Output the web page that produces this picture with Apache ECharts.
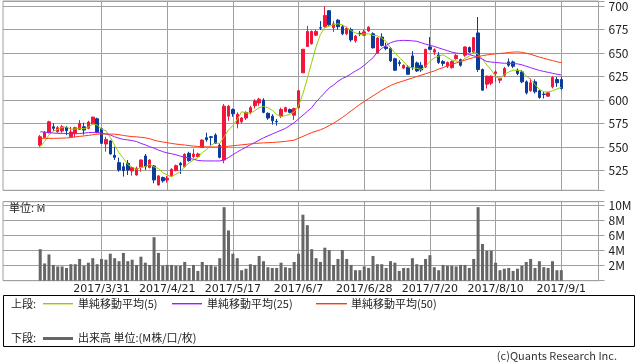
<!DOCTYPE html>
<html><head><meta charset="utf-8">
<script src="https://cdn.jsdelivr.net/npm/echarts@6/dist/echarts.min.js"></script>
<style>html,body{margin:0;padding:0;background:#fff}#c{width:638px;height:362px}</style>
</head><body><div id="c"></div>
<script>
const dates = [
'2017/3/10','2017/3/13','2017/3/14','2017/3/15','2017/3/16','2017/3/17','2017/3/21','2017/3/22','2017/3/23','2017/3/24',
'2017/3/27','2017/3/28','2017/3/29','2017/3/30','2017/3/31','2017/4/3','2017/4/4','2017/4/5','2017/4/6','2017/4/7',
'2017/4/10','2017/4/11','2017/4/12','2017/4/13','2017/4/14','2017/4/17','2017/4/18','2017/4/19','2017/4/20','2017/4/21',
'2017/4/24','2017/4/25','2017/4/26','2017/4/27','2017/4/28','2017/5/1','2017/5/2','2017/5/8','2017/5/9','2017/5/10',
'2017/5/11','2017/5/12','2017/5/15','2017/5/16','2017/5/17','2017/5/18','2017/5/19','2017/5/22','2017/5/23','2017/5/24',
'2017/5/25','2017/5/26','2017/5/29','2017/5/30','2017/5/31','2017/6/1','2017/6/2','2017/6/5','2017/6/6','2017/6/7',
'2017/6/8','2017/6/9','2017/6/12','2017/6/13','2017/6/14','2017/6/15','2017/6/16','2017/6/19','2017/6/20','2017/6/21',
'2017/6/22','2017/6/23','2017/6/26','2017/6/27','2017/6/28','2017/6/29','2017/6/30','2017/7/3','2017/7/4','2017/7/5',
'2017/7/6','2017/7/7','2017/7/10','2017/7/11','2017/7/12','2017/7/13','2017/7/14','2017/7/18','2017/7/19','2017/7/20',
'2017/7/21','2017/7/24','2017/7/25','2017/7/26','2017/7/27','2017/7/28','2017/7/31','2017/8/1','2017/8/2','2017/8/3',
'2017/8/4','2017/8/7','2017/8/8','2017/8/9','2017/8/10','2017/8/14','2017/8/15','2017/8/16','2017/8/17','2017/8/18',
'2017/8/21','2017/8/22','2017/8/23','2017/8/24','2017/8/25','2017/8/28','2017/8/29','2017/8/30','2017/8/31','2017/9/1'];

const tickLabels = ['2017/3/31','2017/4/21','2017/5/17','2017/6/7','2017/6/28','2017/7/20','2017/8/10','2017/9/1'];

const openP = [
552.3,560.4,565.4,571.7,566.4,567.2,571,561.1,564.7,568.9,
571.7,570,574.6,580.2,569.6,553.4,556.6,541.4,533.6,529.3,
532.9,524.8,520.5,528.6,540.7,528.3,530,509.9,517.7,515.2,
519.8,525.1,532.9,529.3,543.5,540,540,549.8,560.1,561.1,
562.9,552,536.4,583,590,575,577,581,587,594,
597,600,586,583,577.5,583,588,590,584,592,
629,657,660,669,677,678,695,677,685,678,
670.5,675,663,671,669,673.5,670.5,650,667,656.5,
654.8,644,640,634,635,647,639.5,637,635.3,656.5,
651,648,641,636,634.5,644,643,647.7,655.8,651.2,
671.4,632.5,617,618,628.3,621.2,626.5,640.6,640.6,631.8,
630,619.4,610,619.4,609.9,606.4,604.2,614.1,621.9,621.9];

const closeP = [
561.1,565.7,577,570,570.7,571.7,567.5,566.1,570.7,575.3,
568.2,576.7,582,565.7,554.1,558.3,542.8,539.2,525.8,525.1,
525.8,528.3,527.6,536.4,529.3,536.4,515.2,519.5,514.2,517,
526.5,530.4,531.1,542.4,535.7,542.8,542.8,557.6,558,560.4,
554.1,539.2,593.6,593.5,585.5,585,581,587,592,599,
601,587,581,578,577,590,592,587,591,610,
654,673,673,673,676.5,690,680,681,678,670.5,
676,664,668,670.5,672.5,677.5,655.5,666,658,654.8,
641.7,631.8,639,637,627.5,635,631,632,654,654,
653.5,640,639,640,641,647.5,637,656.5,651,666.4,
632.5,610.6,625.5,625.5,630,623,633.6,637.1,636,628.3,
619.4,607.8,618.4,608.8,602.8,606,607.8,624,618.4,612.4];

const lowP = [
550.5,559.7,564.7,567.2,565.4,565.4,562.9,560.4,560.4,568.2,
563.3,568.9,574.6,564.7,553.4,545.2,542.1,536.4,524,518.8,
520.5,519.8,519.8,524,525.8,527.6,511.7,509.2,512.4,512.4,
518.8,524.4,521.6,528.6,534.6,538.2,539.2,549.1,555.8,551.6,
553.4,538.2,532.9,578,582.3,570,575,579,585,591,
594,586,579,574,573,581,587,586,579,591,
629,656.5,659,668,674.5,677,679,672.5,675,669,
669,662,661,668,668,672.5,655,649,657,653,
640.6,631,636,633,627,632,630,630,634,653,
648,638.5,636,634,633.5,643,635.5,646,650,650,
630,609.9,612.4,616,619.4,618,624.7,635.3,634,626.5,
618,606,608.8,607,601.5,601.8,603.5,612.4,614.1,611];

const highP = [
562.9,567.2,578.1,575.3,572.5,573.5,572.5,571.7,571.7,578.8,
576,578.1,582.3,581.3,570.7,561.1,557.6,550.5,538.9,533.6,
536.4,529.3,529.3,537.1,542.8,537.1,531.1,520.5,518.8,519.5,
527.6,531.5,534.3,543.5,545.2,548.4,544.2,558.3,565.4,561.9,
564.7,554.1,595.8,595,591.2,587,582,588,594,601,
602.5,602,587,585,580,592,593,591,592,611,
654.5,679,674,675,684,699.6,695.5,684,686,680,
678,677,669,673.5,675,678.5,672,667,671,661,
656.5,645,642.4,638,637,652,641,640.6,654.5,667,
655,651,642.5,641,642,649,644,657,657,667,
688.3,633.6,626,626,631.8,624,635.3,644.2,642,633.6,
632,621,623,622,611,608.8,608.5,625.4,624.7,625];

const ma5 = [
550.5,556,563,567,568.9,571.0,571.4,569.2,569.3,570.3,
569.6,571.4,574.6,573.6,569.3,567.4,560.6,552.0,544.0,538.2,
531.7,528.8,526.5,528.6,529.5,531.6,529.0,527.4,522.9,520.5,
518.5,521.5,523.8,529.5,533.2,536.5,539.0,544.3,547.4,552.3,
554.6,553.9,561.1,568.2,573.2,579.4,587.7,586.4,586.1,588.8,
592.0,593.2,592.0,589.2,584.8,582.6,583.6,584.8,587.4,594.0,
606.8,623.0,640.2,656.6,669.9,677.1,678.5,680.1,681.1,679.9,
677.1,673.9,671.3,669.8,670.2,670.5,668.8,668.4,665.9,662.4,
655.2,650.5,645.1,640.9,635.4,634.1,633.9,632.5,635.9,641.2,
644.9,646.7,648.1,645.3,642.7,641.5,640.9,644.4,646.6,651.7,
648.7,643.4,637.2,632.1,624.8,622.9,627.5,629.8,631.9,631.6,
630.9,625.7,622.0,616.5,611.4,608.8,608.8,609.9,611.8,613.7];

const ma25 = [
566.4,566,565.5,565,564.7,564.7,564.5,564.3,564.3,564.5,
565,565.5,565.7,565.5,565,564,563,561,559.5,558.3,
557.7,557,556,554,552.5,550.5,549,547,545.2,544,
543,542,540.5,539.5,538.5,537.1,536,535.5,535.4,535.4,
535.4,535.4,536.5,539,542,545,547.5,550,552.5,555,
557.5,560,562,564,566,568,570,573,576,580,
584,588,592,598,603,608,613,616,620,623,
625,628,631,633.5,637,641,645,651,655,658,
661,662.5,663.3,663.5,663.3,663,662.5,661,659.5,658.3,
657,655.5,654,652.5,651,650,649.5,649.5,648.5,647,
646,643.5,641,640.5,640,639.5,639.2,639,638.9,638.5,
637.5,636,634.5,633,631.5,630.5,629.5,628.5,627.5,626.8];

const ma50 = [
559.4,559.4,559.4,559.4,559.5,559.6,559.8,560.2,561,561.5,
562,562.5,563.2,563.8,564,564,564,563.8,563.2,562.5,
561.8,561.2,561,560.5,560,559,557.5,556.3,555.5,554.8,
554,553.3,552.8,552.3,551.7,551.2,550.8,550.5,550.4,550.3,
550.2,550.2,550.5,551,551.5,552,552.5,553,553.5,554,
554.3,554.6,554.8,555,555.3,555.7,556.2,556.8,557.5,559.5,
561.5,563.5,565.5,567,568.5,570.5,573,575.5,578.5,581.5,
585,588.5,592,595.5,598.5,601.5,604.5,607.5,610.5,613,
615.5,617.5,619,620.5,622,623.5,625,626.5,628,629.5,
631,633,634.5,636.5,638,639.5,641,642.5,644,645.2,
646.3,647.3,648,648.6,649.2,649.6,650,650.6,651,651.2,
650.8,649.8,648.7,647.2,645.7,644.5,643.2,642,640.8,639.8];

const volumeM = [
4.2,2.3,3.5,2.1,1.9,1.9,1.7,2.2,2.2,2.9,
2.0,2.4,3.0,2.2,2.9,2.8,3.6,3.0,2.6,3.7,
2.6,2.8,2.1,3.2,2.4,2.1,5.8,3.7,2.0,2.1,
2.1,2.0,2.0,2.5,1.7,2.1,1.3,2.5,2.1,2.1,
1.9,3.0,9.8,6.7,3.6,3.0,1.4,1.6,2.2,2.1,
3.3,2.6,1.8,1.7,1.7,2.4,1.8,1.7,2.5,3.6,
8.8,7.4,4.2,3.0,2.5,4.4,4.1,2.1,2.9,4.1,
2.9,2.1,1.4,1.4,1.9,1.7,3.3,2.2,2.2,1.7,
2.6,2.4,1.3,1.7,1.7,3.0,2.2,2.1,2.9,3.4,
1.8,1.4,2.1,2.0,2.0,1.9,2.1,2.1,1.7,2.9,
9.8,4.9,4.0,4.0,2.4,1.4,1.6,1.7,1.3,1.6,
2.0,2.5,2.9,1.7,2.6,1.8,1.7,2.6,1.4,1.4];

// empty slots on the axis before the first and after the last session
const padBefore = 8, padAfter = 8;
const categories = [];
for (let k = 0; k < padBefore; k++) categories.push('pre' + k);
dates.forEach(d => categories.push(d));
for (let k = 0; k < padAfter; k++) categories.push('post' + k);

const labelSet = new Set(tickLabels);
const isLabeled = (idx, val) => labelSet.has(categories[idx]);

const FONT = '"Noto Sans CJK JP", "Noto Sans", sans-serif';
const NUMFONT = '"DejaVu Sans", sans-serif';
const UP = '#f0163c', DOWN = '#0a3c9c';
const GRIDC = '#a0a0a0';
const C5 = '#99cc00', C25 = '#9a1eff', C50 = '#ff3a10';

const candleData = dates.map((d, k) => [d, openP[k], closeP[k], lowP[k], highP[k]]);
const pairs = arr => dates.map((d, k) => [d, arr[k]]);

const chart = echarts.init(document.getElementById('c'), null, {renderer: 'canvas'});
chart.setOption({
  animation: false,
  backgroundColor: '#fff',
  grid: [
    {left: 3, top: 1, width: 595.5, height: 189.3, show: true, borderColor: GRIDC, borderWidth: 1, backgroundColor: 'transparent'},
    {left: 3, top: 201.7, width: 595.5, height: 79, show: true, borderColor: GRIDC, borderWidth: 1, backgroundColor: 'transparent'}
  ],
  xAxis: [
    {type: 'category', gridIndex: 0, data: categories, boundaryGap: true,
     axisLine: {show: false}, axisTick: {show: false}, axisLabel: {show: false},
     splitLine: {show: true, interval: isLabeled, alignWithLabel: true, lineStyle: {color: GRIDC, width: 1}}},
    {type: 'category', gridIndex: 1, data: categories, boundaryGap: true,
     axisLine: {show: false}, axisTick: {show: false},
     axisLabel: {show: true, interval: isLabeled, color: '#222', fontSize: 11, fontFamily: NUMFONT, margin: 3},
     splitLine: {show: true, interval: isLabeled, alignWithLabel: true, lineStyle: {color: GRIDC, width: 1}}}
  ],
  yAxis: [
    {type: 'value', gridIndex: 0, position: 'right', min: 504.2, max: 705.3, minInterval: 25, maxInterval: 25, scale: true,
     axisLine: {show: false}, axisTick: {show: true, length: 6, lineStyle: {color: GRIDC}},
     axisLabel: {color: '#222', fontSize: 12, fontFamily: FONT, margin: 10,
       formatter: v => (Math.abs(v / 25 - Math.round(v / 25)) < 1e-6 ? String(Math.round(v)) : '')},
     splitLine: {show: true, lineStyle: {color: GRIDC, width: 1}}},
    {type: 'value', gridIndex: 1, position: 'right', min: 0, max: 10.53, interval: 2,
     axisLine: {show: false}, axisTick: {show: true, length: 6, lineStyle: {color: GRIDC}},
     axisLabel: {color: '#222', fontSize: 12, fontFamily: FONT, margin: 10,
       formatter: v => (v > 0 && Math.abs(v / 2 - Math.round(v / 2)) < 1e-6 ? Math.round(v) + 'M' : '')},
     splitLine: {show: true, lineStyle: {color: GRIDC, width: 1}}}
  ],
  series: [
    {type: 'candlestick', name: 'price', xAxisIndex: 0, yAxisIndex: 0, data: candleData,
     encode: {x: 0, y: [1, 2, 3, 4]}, barWidth: 3,
     itemStyle: {color: UP, color0: DOWN, borderColor: UP, borderColor0: DOWN, borderWidth: 1}},
    {type: 'line', name: '単純移動平均(5)', xAxisIndex: 0, yAxisIndex: 0, data: pairs(ma5),
     symbol: 'none', lineStyle: {color: C5, width: 1}, z: 3},
    {type: 'line', name: '単純移動平均(25)', xAxisIndex: 0, yAxisIndex: 0, data: pairs(ma25),
     symbol: 'none', lineStyle: {color: C25, width: 1}, z: 3},
    {type: 'line', name: '単純移動平均(50)', xAxisIndex: 0, yAxisIndex: 0, data: pairs(ma50),
     symbol: 'none', lineStyle: {color: C50, width: 1}, z: 3},
    {type: 'bar', name: '出来高', xAxisIndex: 1, yAxisIndex: 1, data: pairs(volumeM),
     barWidth: 3, itemStyle: {color: '#666666'}}
  ],
  graphic: [
    {type: 'text', left: 9, top: 202, style: {text: '単位: M', font: '11px ' + FONT, fill: '#222'}},
    {type: 'rect', shape: {x: 3.5, y: 295.5, width: 631, height: 51}, style: {fill: 'none', stroke: '#000', lineWidth: 1}},
    {type: 'text', x: 11, y: 304, style: {text: '上段:', font: '11px ' + FONT, fill: '#222', verticalAlign: 'middle'}},
    {type: 'rect', shape: {x: 43, y: 303, width: 30, height: 1.4}, style: {fill: C5}},
    {type: 'text', x: 78, y: 304, style: {text: '単純移動平均(5)', font: '11px ' + FONT, fill: '#222', verticalAlign: 'middle'}},
    {type: 'rect', shape: {x: 172, y: 303, width: 30, height: 1.4}, style: {fill: C25}},
    {type: 'text', x: 207, y: 304, style: {text: '単純移動平均(25)', font: '11px ' + FONT, fill: '#222', verticalAlign: 'middle'}},
    {type: 'rect', shape: {x: 316, y: 303, width: 31, height: 1.4}, style: {fill: C50}},
    {type: 'text', x: 351, y: 304, style: {text: '単純移動平均(50)', font: '11px ' + FONT, fill: '#222', verticalAlign: 'middle'}},
    {type: 'text', x: 11, y: 338, style: {text: '下段:', font: '11px ' + FONT, fill: '#222', verticalAlign: 'middle'}},
    {type: 'rect', shape: {x: 43, y: 337, width: 30, height: 3}, style: {fill: '#666666'}},
    {type: 'text', x: 78, y: 338, style: {text: '出来高 単位:(M株/口/枚)', font: '11px ' + FONT, fill: '#222', verticalAlign: 'middle'}},
    {type: 'text', x: 617, y: 356, style: {text: '(c)Quants Research Inc.', font: '11px ' + FONT, fill: '#333', align: 'right', verticalAlign: 'middle'}}
  ]
});
</script></body></html>
